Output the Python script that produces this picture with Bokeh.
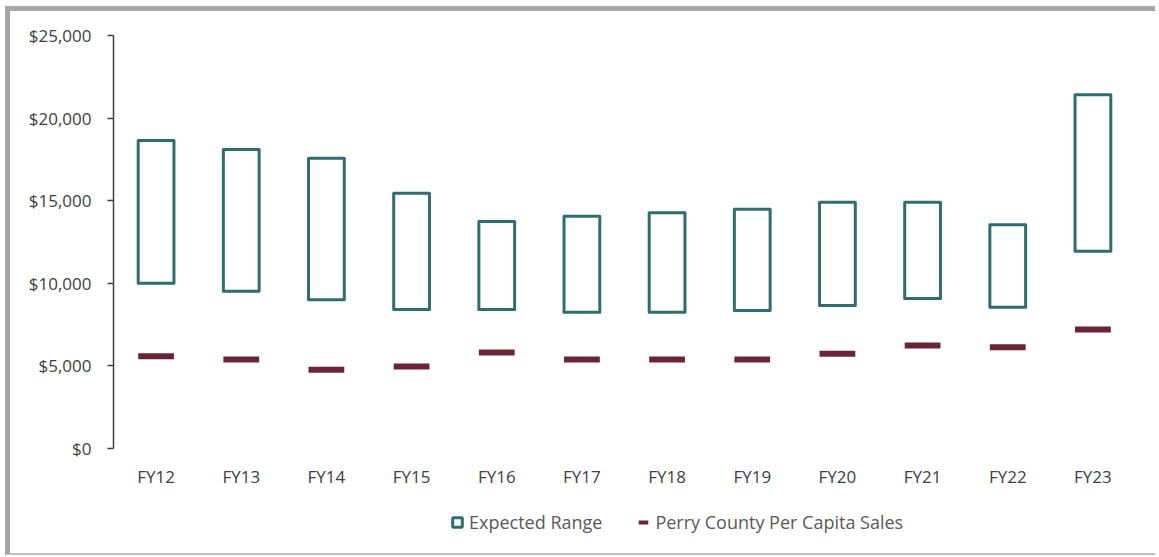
from bokeh.plotting import figure
from bokeh.layouts import column
from bokeh.models import (FactorRange, Range1d, NumeralTickFormatter, Legend,
                          LegendItem, FixedTicker, ColumnDataSource)
from bokeh.embed import file_html
from bokeh.resources import INLINE

years = ["FY12", "FY13", "FY14", "FY15", "FY16", "FY17",
         "FY18", "FY19", "FY20", "FY21", "FY22", "FY23"]
range_low = [10000, 9520, 9000, 8410, 8410, 8250, 8250, 8350, 8660, 9080, 8550, 11940]
range_high = [18650, 18100, 17570, 15450, 13740, 14060, 14270, 14490, 14910, 14910, 13540, 21410]
per_capita = [5590, 5390, 4760, 4960, 5810, 5390, 5390, 5390, 5730, 6230, 6130, 7200]
y_ticks = [0, 5000, 10000, 15000, 20000, 25000]
legend_labels = ["Expected Range", "Perry County Per Capita Sales"]

TEAL = "#2E6E6E"
MAROON = "#6B2337"
FONT = "Open Sans"
W = 1145

box_src = ColumnDataSource(dict(x=years, bottom=range_low, top=range_high))
seg_src = ColumnDataSource(dict(
    x=years,
    x0=[(y, -0.21) for y in years],
    x1=[(y, 0.21) for y in years],
    y=per_capita,
))

xr = FactorRange(factors=years, range_padding=0)
p = figure(x_range=xr,
           y_range=Range1d(0, 25000),
           width=W, height=479,
           output_backend="svg", toolbar_location=None,
           min_border_left=103, min_border_right=20,
           min_border_top=24, min_border_bottom=42)
p.outline_line_color = None
p.xgrid.grid_line_color = None
p.ygrid.grid_line_color = None

p.vbar(x="x", bottom="bottom", top="top", width=0.42, source=box_src,
       fill_color=None, line_color=TEAL, line_width=3, line_join="round")
p.segment(x0="x0", y0="y", x1="x1", y1="y", source=seg_src,
          line_color=MAROON, line_width=6, line_cap="butt")

# y axis
yax = p.yaxis[0]
yax.ticker = FixedTicker(ticks=y_ticks)
yax.formatter = NumeralTickFormatter(format="$0,0")
yax.axis_line_color = "#404040"
yax.axis_line_width = 1.5
yax.major_tick_line_color = "#404040"
yax.major_tick_line_width = 1.5
yax.major_tick_out = 6
yax.major_tick_in = 0
yax.minor_tick_line_color = None
yax.major_label_standoff = 16
yax.major_label_text_font = FONT
yax.major_label_text_font_size = "17px"
yax.major_label_text_color = "#404040"

# x axis
xax = p.xaxis[0]
xax.axis_line_color = None
xax.major_tick_line_color = None
xax.minor_tick_line_color = None
xax.major_tick_out = 0
xax.major_label_standoff = 16
xax.major_label_text_font = FONT
xax.major_label_text_font_size = "17px"
xax.major_label_text_color = "#404040"

# legend strip below the chart; its markers reuse the data but fall outside
# this strip's y range, so only the legend glyphs are visible
lg = figure(width=W, height=63, x_range=xr, y_range=Range1d(-2, -1),
            output_backend="svg", toolbar_location=None,
            x_axis_type=None, y_axis_type=None,
            min_border_left=0, min_border_right=0, min_border_top=0, min_border_bottom=0)
lg.outline_line_color = None
lg.xgrid.grid_line_color = None
lg.ygrid.grid_line_color = None
lr_box = lg.scatter(x="x", y="bottom", source=box_src, marker="square",
                    fill_color=None, line_color=TEAL, line_width=3)
lr_seg = lg.scatter(x="x", y="y", source=seg_src, marker="dash",
                    line_color=MAROON, line_width=4)

legend = Legend(items=[LegendItem(label=legend_labels[0], renderers=[lr_box]),
                       LegendItem(label=legend_labels[1], renderers=[lr_seg])],
                orientation="horizontal", location=(332, 19),
                border_line_color=None, background_fill_alpha=0,
                label_text_font=FONT, label_text_font_size="18px",
                label_text_color="#595959",
                glyph_width=24, glyph_height=24, label_standoff=0,
                spacing=29, padding=0, margin=0)
lg.add_layout(legend, "center")

layout = column(p, lg, spacing=0)
layout.styles = {"margin-left": "5px", "margin-top": "6px",
                 "border-top": "5px solid #a6a6a6",
                 "border-left": "5px solid #a6a6a6",
                 "border-bottom": "2px solid #bfbfbf"}

open("out.html", "w").write(file_html(layout, INLINE))
